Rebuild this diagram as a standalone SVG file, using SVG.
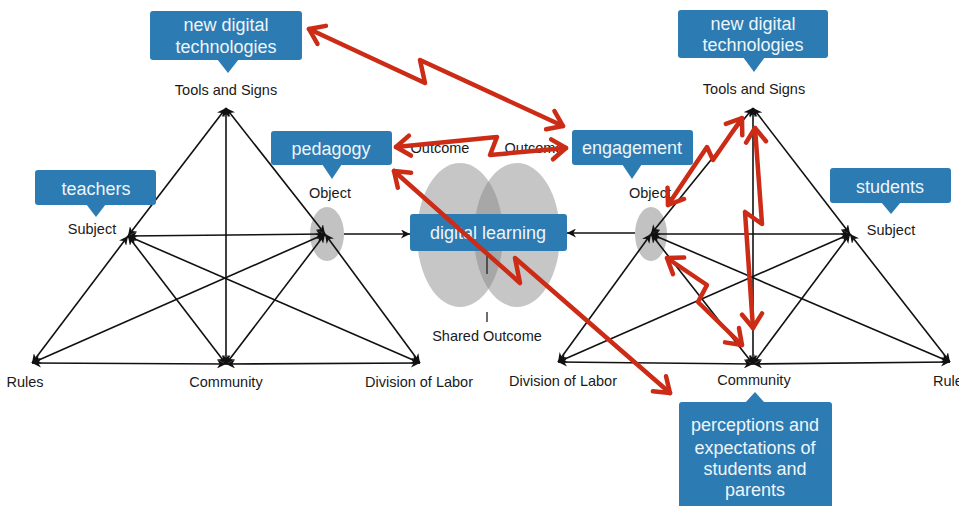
<svg xmlns="http://www.w3.org/2000/svg" width="959" height="506" viewBox="0 0 959 506">
<style>
.lbl{font-family:"Liberation Sans",Arial,sans-serif;font-size:14.5px;fill:#1a1a1a;text-anchor:middle}
.box{fill:#2c7bb2}
.bt{font-family:"Liberation Sans",Arial,sans-serif;font-size:18px;fill:#eef5fa;text-anchor:middle}
.ln{stroke:#111;stroke-width:1.6;fill:none;marker-start:url(#ah);marker-end:url(#ah)}
.ln1{stroke:#111;stroke-width:1.6;fill:none;marker-end:url(#ah)}
.red{stroke:#cc2b16;stroke-width:4.5;fill:none;stroke-linecap:round;stroke-linejoin:round;marker-start:url(#rh);marker-end:url(#rh)}
.obj{fill:#c2c2c2}
.venn{fill:#808080;fill-opacity:0.45}
</style>
<defs>
<marker id="ah" viewBox="0 0 10 10" refX="10" refY="5" markerWidth="9" markerHeight="9" markerUnits="userSpaceOnUse" orient="auto-start-reverse"><path d="M0,0 L10,5 L0,10 L3,5 z" fill="#111"/></marker>
<marker id="rh" viewBox="-18 -13 22 26" refX="0" refY="0" markerWidth="22" markerHeight="26" markerUnits="userSpaceOnUse" orient="auto-start-reverse"><path d="M-14,-10 L0,0 L-14,10" fill="none" stroke="#cc2b16" stroke-width="4.5" stroke-linecap="round" stroke-linejoin="round"/></marker>
</defs>
<rect width="959" height="506" fill="#fff"/>

<g id="shared-outcome">
<ellipse class="venn" cx="460" cy="235" rx="43" ry="72"/>
<ellipse class="venn" cx="517" cy="235" rx="43" ry="72"/>
<line x1="487" y1="256" x2="487" y2="322" stroke="#222" stroke-width="1.3" stroke-dasharray="18,38"/>
<text class="lbl" x="487" y="341">Shared Outcome</text>
</g>

<g id="object-left"><ellipse class="obj" cx="327" cy="234" rx="17" ry="27"/><text class="lbl" x="330" y="198">Object</text></g>
<g id="object-right"><ellipse class="obj" cx="651" cy="234" rx="16" ry="27"/><text class="lbl" x="650" y="198">Object</text></g>

<g id="connectors">
<line class="ln" x1="226" y1="108" x2="128" y2="236"/>
<line class="ln" x1="226" y1="108" x2="325" y2="234"/>
<line class="ln" x1="226" y1="108" x2="226" y2="364"/>
<line class="ln" x1="128" y1="236" x2="325" y2="234"/>
<line class="ln" x1="128" y1="236" x2="32" y2="363"/>
<line class="ln" x1="128" y1="236" x2="226" y2="364"/>
<line class="ln" x1="128" y1="236" x2="420" y2="363"/>
<line class="ln" x1="325" y1="234" x2="32" y2="363"/>
<line class="ln" x1="325" y1="234" x2="226" y2="364"/>
<line class="ln" x1="325" y1="234" x2="420" y2="363"/>
<line class="ln" x1="32" y1="363" x2="226" y2="364"/>
<line class="ln" x1="226" y1="364" x2="420" y2="363"/>
<line class="ln1" x1="344" y1="234" x2="410" y2="234"/>

<line class="ln" x1="753" y1="108" x2="651" y2="234"/>
<line class="ln" x1="753" y1="108" x2="850" y2="234"/>
<line class="ln" x1="753" y1="108" x2="753" y2="364"/>
<line class="ln" x1="651" y1="234" x2="850" y2="234"/>
<line class="ln" x1="651" y1="234" x2="558" y2="362"/>
<line class="ln" x1="651" y1="234" x2="753" y2="364"/>
<line class="ln" x1="651" y1="234" x2="950" y2="362"/>
<line class="ln" x1="850" y1="234" x2="558" y2="362"/>
<line class="ln" x1="850" y1="234" x2="753" y2="364"/>
<line class="ln" x1="850" y1="234" x2="950" y2="362"/>
<line class="ln" x1="558" y1="362" x2="753" y2="364"/>
<line class="ln" x1="753" y1="364" x2="950" y2="362"/>
<line class="ln1" x1="635" y1="233" x2="567" y2="233"/>
</g>

<g id="labels">
<text class="lbl" x="226" y="95">Tools and Signs</text>
<text class="lbl" x="92" y="234">Subject</text>
<text class="lbl" x="25" y="387">Rules</text>
<text class="lbl" x="226" y="387">Community</text>
<text class="lbl" x="419" y="387">Division of Labor</text>
<text class="lbl" x="440" y="153">Outcome</text>
<text class="lbl" x="534" y="153">Outcome</text>
<text class="lbl" x="754" y="94">Tools and Signs</text>
<text class="lbl" x="891" y="235">Subject</text>
<text class="lbl" x="563" y="386">Division of Labor</text>
<text class="lbl" x="754" y="385">Community</text>
<text class="lbl" x="933" y="386" style="text-anchor:start">Rules</text>
</g>

<g id="callout-tools-left"><rect class="box" x="150" y="11" width="152" height="49" rx="3"/><path class="box" d="M217,59 L239,59 L228,73 z"/><text class="bt" x="226" y="31">new digital</text><text class="bt" x="226" y="53">technologies</text></g>
<g id="callout-teachers"><rect class="box" x="35" y="170" width="121" height="35" rx="3"/><path class="box" d="M86,204 L106,204 L96,217 z"/><text class="bt" x="96" y="195">teachers</text></g>
<g id="callout-pedagogy"><rect class="box" x="271" y="131" width="121" height="34" rx="3"/><path class="box" d="M322,164 L342,164 L332,179 z"/><text class="bt" x="331" y="155">pedagogy</text></g>
<g id="callout-digital-learning"><rect class="box" x="410" y="214" width="157" height="37" rx="3"/><text class="bt" x="488" y="239">digital learning</text></g>
<g id="callout-engagement"><rect class="box" x="572" y="130" width="121" height="35" rx="3"/><path class="box" d="M622,164 L642,164 L632,179 z"/><text class="bt" x="632" y="154">engagement</text></g>
<g id="callout-tools-right"><rect class="box" x="678" y="10" width="150" height="48" rx="3"/><path class="box" d="M743,57 L765,57 L754,72 z"/><text class="bt" x="753" y="30">new digital</text><text class="bt" x="753" y="51">technologies</text></g>
<g id="callout-students"><rect class="box" x="830" y="168" width="121" height="35" rx="3"/><path class="box" d="M881,202 L901,202 L891,214 z"/><text class="bt" x="890" y="193">students</text></g>
<g id="callout-perceptions"><rect class="box" x="679" y="402" width="153" height="110" rx="3"/><path class="box" d="M745,403 L765,403 L755,392 z"/><text class="bt" x="755" y="431">perceptions and</text><text class="bt" x="755" y="454">expectations of</text><text class="bt" x="755" y="475">students and</text><text class="bt" x="755" y="496">parents</text></g>

<g id="annotations">
<polyline class="red" points="309,29 425,83 420,60 563,126"/>
<polyline class="red" points="396,147 497,137 490,155 566,148"/>
<polyline class="red" points="394,171 520,283 515,258 670,393"/>
<polyline class="red" points="668,205 707,147 713,160 742,118"/>
<polyline class="red" points="755,128 762,224 745,212 753,328"/>
<polyline class="red" points="667,258 707,285 698,302 742,345"/>
</g>
</svg>
